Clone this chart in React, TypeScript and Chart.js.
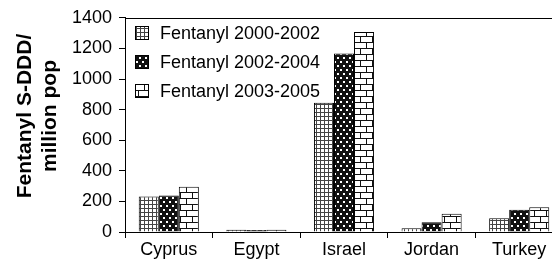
import React, { useEffect, useRef } from 'react';
import { Chart, registerables } from 'chart.js';

Chart.register(...registerables);

const categories = ['Cyprus', 'Egypt', 'Israel', 'Jordan', 'Turkey'];
const seriesLabels = ['Fentanyl 2000-2002', 'Fentanyl 2002-2004', 'Fentanyl 2003-2005'];
const fentanyl2000_2002 = [232, 14, 845, 25, 90];
const fentanyl2002_2004 = [238, 13, 1166, 63, 145];
const fentanyl2003_2005 = [296, 14, 1308, 120, 162];
const yTitleLines = ['Fentanyl S-DDD/', 'million pop'];
const yMin = 0;
const yMax = 1400;
const yStep = 200;

const FONT = '"Liberation Sans", Arial, sans-serif';

function makeTile(w: number, h: number, draw: (c: CanvasRenderingContext2D) => void): CanvasPattern {
  const cv = document.createElement('canvas');
  cv.width = w;
  cv.height = h;
  const c = cv.getContext('2d')!;
  draw(c);
  const ctx = document.createElement('canvas').getContext('2d')!;
  return ctx.createPattern(cv, 'repeat')!;
}

function gridPattern() {
  return makeTile(4, 4, (c) => {
    c.fillStyle = '#fff';
    c.fillRect(0, 0, 4, 4);
    c.fillStyle = '#444';
    c.fillRect(0, 0, 4, 1);
    c.fillRect(0, 0, 1, 4);
  });
}

function dotPattern() {
  return makeTile(6, 8, (c) => {
    c.fillStyle = '#111';
    c.fillRect(0, 0, 6, 8);
    c.fillStyle = '#fff';
    c.fillRect(1, 1, 2, 2);
    c.fillRect(4, 5, 2, 2);
  });
}

function brickPattern() {
  return makeTile(12, 12, (c) => {
    c.fillStyle = '#fff';
    c.fillRect(0, 0, 12, 12);
    c.fillStyle = '#111';
    c.fillRect(0, 0, 12, 1);
    c.fillRect(0, 6, 12, 1);
    c.fillRect(0, 0, 1, 6);
    c.fillRect(6, 6, 1, 6);
  });
}

export default function App() {
  const ref = useRef<HTMLCanvasElement | null>(null);

  useEffect(() => {
    if (!ref.current) return;
    const patterns = [gridPattern(), dotPattern(), brickPattern()];
    const seriesValues = [fentanyl2000_2002, fentanyl2002_2004, fentanyl2003_2005];

    const framePlugin = {
      id: 'frame',
      afterDraw(chart: any) {
        const { ctx, chartArea } = chart;
        ctx.save();
        ctx.strokeStyle = '#000';
        ctx.lineWidth = 1;
        ctx.beginPath();
        ctx.moveTo(chartArea.left, Math.round(chartArea.top) + 0.5);
        ctx.lineTo(chartArea.right, Math.round(chartArea.top) + 0.5);
        ctx.moveTo(Math.round(chartArea.right) + 0.5, chartArea.top);
        ctx.lineTo(Math.round(chartArea.right) + 0.5, chartArea.bottom);
        ctx.stroke();

        // y-axis title
        ctx.fillStyle = '#000';
        ctx.font = `bold 21px ${FONT}`;
        ctx.textAlign = 'center';
        ctx.textBaseline = 'middle';
        ctx.translate(25, 116);
        ctx.rotate(-Math.PI / 2);
        yTitleLines.forEach((line, i) => ctx.fillText(line, 0, i * 25));
        ctx.restore();

        // legend
        ctx.save();
        ctx.font = `18px ${FONT}`;
        ctx.textAlign = 'left';
        ctx.textBaseline = 'middle';
        const rows = [33, 62, 91];
        chart.data.datasets.forEach((ds: any, i: number) => {
          const cy = rows[i];
          ctx.fillStyle = ds.backgroundColor;
          ctx.fillRect(135, cy - 7, 14, 14);
          ctx.strokeStyle = '#000';
          ctx.lineWidth = 1;
          ctx.strokeRect(135.5, cy - 6.5, 13, 13);
          ctx.fillStyle = '#000';
          ctx.fillText(ds.label, 160, cy + 1);
        });
        ctx.restore();
      },
    };

    const chart = new Chart(ref.current, {
      type: 'bar',
      data: {
        labels: categories,
        datasets: seriesLabels.map((label, i) => ({
          label,
          data: seriesValues[i],
          backgroundColor: patterns[i] as any,
          borderColor: '#000',
          borderWidth: 1,
          categoryPercentage: 0.686,
          barPercentage: 1.0,
        })),
      },
      options: {
        responsive: false,
        animation: false,
        devicePixelRatio: 1,
        layout: { padding: { top: 16, left: 0, right: 3, bottom: 0 } },
        plugins: {
          legend: { display: false },
          tooltip: { enabled: false },
        },
        scales: {
          x: {
            grid: { offset: true, drawOnChartArea: false, color: '#000', tickLength: 6 },
            border: { display: true, color: '#000', width: 1 },
            ticks: { color: '#000', font: { family: FONT, size: 18 }, padding: 1, maxRotation: 0 },
            afterFit(scale: any) {
              scale.height = 30;
            },
          },
          y: {
            min: yMin,
            max: yMax,
            grid: { drawOnChartArea: false, color: '#000', tickLength: 6 },
            border: { display: true, color: '#000', width: 1 },
            ticks: {
              stepSize: yStep,
              color: '#000',
              font: { family: FONT, size: 18 },
              padding: 7,
              callback: (v: any) => String(v),
            },
            afterFit(scale: any) {
              scale.width = 125;
            },
          },
        },
      },
      plugins: [framePlugin],
    });

    return () => chart.destroy();
  }, []);

  return (
    <div style={{ position: 'absolute', left: 0, top: 0, width: 552, height: 262, overflow: 'hidden', background: '#fff' }}>
      <canvas ref={ref} width={566} height={262} style={{ width: 566, height: 262, display: 'block' }} />
    </div>
  );
}
